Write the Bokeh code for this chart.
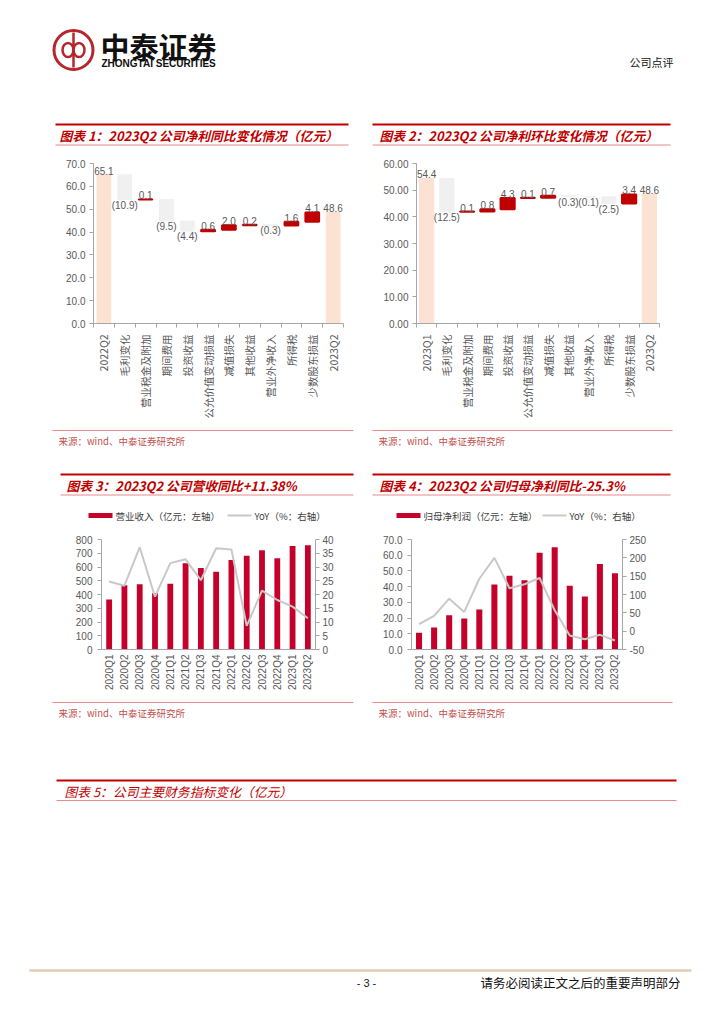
import math
from bokeh.plotting import figure
from bokeh.layouts import column, row
from bokeh.models import (Range1d, FactorRange, LinearAxis, FixedTicker,
                          CustomJSTickFormatter, NumeralTickFormatter)
from bokeh.core.properties import value
from bokeh.embed import file_html
from bokeh.resources import INLINE

# ---------------- data ----------------
wf1_title = "图表 1：2023Q2 公司净利同比变化情况（亿元）"
wf1_cats = ["2022Q2", "毛利变化", "营业税金及附加", "期间费用", "投资收益", "公允价值变动损益",
            "减值损失", "其他收益", "营业外净收入", "所得税", "少数股东损益", "2023Q2"]
wf1_vals = [65.1, -10.9, 0.1, -9.5, -4.4, 0.6, 2.0, 0.2, -0.3, 1.6, 4.1, 48.6]
wf1_ticks = [0, 10, 20, 30, 40, 50, 60, 70]

wf2_title = "图表 2：2023Q2 公司净利环比变化情况（亿元）"
wf2_cats = ["2023Q1", "毛利变化", "营业税金及附加", "期间费用", "投资收益", "公允价值变动损益",
            "减值损失", "其他收益", "营业外净收入", "所得税", "少数股东损益", "2023Q2"]
wf2_vals = [54.4, -12.5, 0.1, 0.8, 4.3, 0.1, 0.7, -0.3, -0.1, -2.5, 3.4, 48.6]
wf2_ticks = [0, 10, 20, 30, 40, 50, 60]

quarters = ["2020Q1", "2020Q2", "2020Q3", "2020Q4", "2021Q1", "2021Q2", "2021Q3", "2021Q4",
            "2022Q1", "2022Q2", "2022Q3", "2022Q4", "2023Q1", "2023Q2"]

rev_title = "图表 3：2023Q2 公司营收同比+11.38%"
revenue = [363, 468, 475, 410, 478, 627, 593, 565, 651, 682, 721, 663, 752, 759]
revenue_yoy = [24.7, 23.2, 37.2, 19.2, 31.4, 32.8, 25.2, 36.8, 36.4, 8.6, 21.4, 18.0, 15.6, 11.38]
rev_ticks = [0, 100, 200, 300, 400, 500, 600, 700, 800]
rev_yoy_ticks = [0, 5, 10, 15, 20, 25, 30, 35, 40]
rev_legend = ["营业收入（亿元：左轴）", "YoY（%：右轴）"]

np_title = "图表 4：2023Q2 公司归母净利同比-25.3%"
net_profit = [10.6, 14.0, 21.8, 19.7, 25.4, 41.4, 46.9, 44.0, 61.5, 65.1, 40.6, 33.8, 54.4, 48.6]
net_profit_yoy = [18.9, 41.5, 88.6, 52.4, 143, 200, 117, 128, 145, 57, -12, -22, -10, -25.3]
np_ticks = [0, 10, 20, 30, 40, 50, 60, 70]
np_yoy_ticks = [-50, 0, 50, 100, 150, 200, 250]
np_legend = ["归母净利润（亿元：左轴）", "YoY（%：右轴）"]

tab5_title = "图表 5：公司主要财务指标变化（亿元）"
source_text = "来源：wind、中泰证券研究所"
brand_cn = "中泰证券"
brand_en = "ZHONGTAI SECURITIES"
doc_type = "公司点评"
page_no = "- 3 -"
footer_note = "请务必阅读正文之后的重要声明部分"

# ---------------- styles ----------------
CJK = "Noto Sans CJK SC"
NUM = "Liberation Sans"
RED = "#C00000"
PINK = "#E98A8A"
SRC_C = "#C0504D"
AX = "#A6A6A6"
LBL = "#595959"
TOTAL = "#FBE2D2"
UP = "#C00000"
DOWN = "#F0F0F0"
BAR = "#C5002B"
YOY = "#C8C8C8"
LOGO = "#B5272D"
PAGE_W = 720


def deco_fig(h, y0, y1):
    p = figure(width=PAGE_W, height=h, x_range=Range1d(0, PAGE_W), y_range=Range1d(y1, y0),
               toolbar_location=None, output_backend="svg", min_border=0,
               x_axis_location=None, y_axis_location=None, outline_line_color=None)
    p.grid.visible = False
    return p


def hline(p, x0, x1, y, color, width):
    p.segment(x0=[x0], y0=[y], x1=[x1], y1=[y], line_color=color, line_width=width)


def txt(p, x, y, s, font, size, color, align="left", style="normal", baseline="middle"):
    p.text(x=[x], y=[y], text=[s], text_font=value(font), text_font_size=size,
           text_color=color, text_align=align, text_baseline=baseline, text_font_style=style)


def title_bar(p, x0, x1, ytop, ytext, ybot, tx, s, style="bold italic"):
    hline(p, x0, x1, ytop, RED, 2)
    txt(p, tx, ytext, s, CJK, "12.8px", RED, style=style)
    hline(p, x0, x1, ybot, PINK, 1)


def style_y(ax, ticks, fmt, standoff=4):
    ax.ticker = FixedTicker(ticks=ticks)
    ax.formatter = NumeralTickFormatter(format=fmt)
    ax.major_tick_out = 4
    ax.major_tick_in = 0
    ax.minor_tick_out = 0
    ax.minor_tick_in = 0
    ax.axis_line_color = AX
    ax.major_tick_line_color = AX
    ax.major_label_text_font = NUM
    ax.major_label_text_font_size = "10px"
    ax.major_label_text_color = LBL
    ax.major_label_standoff = standoff


def waterfall(cats, vals, ticks, fmt, w, h, bl, br, bt, bb, bar_w):
    n = len(cats)
    xs = [i + 0.5 for i in range(n)]          # category slots on a numeric axis
    bottoms, tops, colors, lws = [], [], [], []
    up_x, up_y, up_t, dn_x, dn_y, dn_t = [], [], [], [], [], []
    level = 0.0
    for i, (x, v) in enumerate(zip(xs, vals)):
        if i == 0 or i == n - 1:
            b, t, col, lw = 0.0, v, TOTAL, 1
            level = v
            up_x.append(x); up_y.append(t); up_t.append(f"{v:.1f}")
        else:
            b, t = sorted((level, level + v))
            level += v
            if v >= 0:
                col, lw = UP, 2
                up_x.append(x); up_y.append(t); up_t.append(f"{v:.1f}")
            else:
                col, lw = DOWN, 1
                dn_x.append(x); dn_y.append(b); dn_t.append(f"({-v:.1f})")
        bottoms.append(b); tops.append(t); colors.append(col); lws.append(lw)

    p = figure(width=w, height=h, x_range=Range1d(0, n), y_range=Range1d(ticks[0], ticks[-1]),
               toolbar_location=None, output_backend="svg",
               min_border_left=bl, min_border_right=br, min_border_top=bt, min_border_bottom=bb,
               outline_line_color=None)
    p.grid.visible = False
    p.vbar(x=xs, bottom=bottoms, top=tops, width=bar_w, fill_color=colors, line_color=colors, line_width=lws)
    p.text(x=up_x, y=up_y, text=up_t, text_align="center", text_baseline="bottom",
           text_font=value(NUM), text_font_size="10px", text_color=LBL)
    p.text(x=dn_x, y=dn_y, text=dn_t, text_align="center", text_baseline="top",
           text_font=value(NUM), text_font_size="10px", text_color=LBL)
    style_y(p.yaxis[0], ticks, fmt)

    xa = p.xaxis[0]
    xa.ticker = FixedTicker(ticks=xs, minor_ticks=list(range(n + 1)))
    xa.formatter = CustomJSTickFormatter(args=dict(labels=cats),
                                         code="return labels[Math.round(tick - 0.5)] || ''")
    xa.major_tick_out = 0
    xa.major_tick_in = 0
    xa.minor_tick_out = 4
    xa.minor_tick_in = 0
    xa.minor_tick_line_color = AX
    xa.axis_line_color = AX
    xa.major_label_orientation = math.pi / 2
    xa.major_label_standoff = 7
    xa.major_label_text_font = CJK
    xa.major_label_text_font_size = "10.5px"
    xa.major_label_text_color = LBL
    return p


def combo(cats, bars, yoy, lticks, lfmt, rticks, w, h, bl, br, bt, bb, bar_w):
    p = figure(width=w, height=h, x_range=FactorRange(*cats), y_range=Range1d(lticks[0], lticks[-1]),
               toolbar_location=None, output_backend="svg",
               min_border_left=bl, min_border_right=br, min_border_top=bt, min_border_bottom=bb,
               outline_line_color=None)
    p.grid.visible = False
    p.extra_y_ranges = {"yoy": Range1d(rticks[0], rticks[-1])}
    p.vbar(x=cats, top=bars, width=bar_w, fill_color=BAR, line_color=None)
    p.line(x=cats, y=yoy, y_range_name="yoy", line_color=YOY, line_width=2)
    style_y(p.yaxis[0], lticks, lfmt, standoff=5)
    ra = LinearAxis(y_range_name="yoy")
    style_y(ra, rticks, "0", standoff=3)
    p.add_layout(ra, "right")
    xa = p.xaxis[0]
    xa.major_label_orientation = math.pi / 2
    xa.major_tick_out = 0
    xa.major_tick_in = 0
    xa.axis_line_color = AX
    xa.major_label_standoff = 5
    xa.major_label_text_font = NUM
    xa.major_label_text_font_size = "10px"
    xa.major_label_text_color = LBL
    return p


def legend(p, x_rect, x_line, text_left, text_right, y):
    p.rect(x=[x_rect + 12], y=[y], width=24, height=5, fill_color=BAR, line_color=None)
    txt(p, x_rect + 27, y, text_left, CJK, "9.5px", "#404040")
    p.segment(x0=[x_line], y0=[y], x1=[x_line + 24], y1=[y], line_color=YOY, line_width=2)
    txt(p, x_line + 27, y, text_right, CJK, "9.5px", "#404040")


# ---------------- header band (y 0 -> 150) ----------------
head = deco_fig(150, 0, 150)
head.circle(x=[73], y=[49.5], radius=19.5, fill_color=None, line_color=LOGO, line_width=3)
head.ellipse(x=[67.5, 78.5], y=[49.5, 49.5], width=11, height=14, fill_color=None,
             line_color=LOGO, line_width=2.5)
head.segment(x0=[73], y0=[32], x1=[73], y1=[67], line_color=LOGO, line_width=2.5)
txt(head, 100, 45, brand_cn, CJK, "29px", "#111111", style="bold")
txt(head, 101, 63, brand_en, NUM, "10px", "#111111", style="bold")
txt(head, 673, 61.5, doc_type, CJK, "11px", "#111111", align="right")
title_bar(head, 55, 348, 124, 134.5, 144.5, 59, wf1_title)
title_bar(head, 372, 670, 124, 134.5, 144.5, 379, wf2_title)

# ---------------- waterfall row (y 150 -> 425) ----------------
p1 = waterfall(wf1_cats, wf1_vals, wf1_ticks, "0.0", 364, 275, 93, 21, 10, 102, 0.66)
p2 = waterfall(wf2_cats, wf2_vals, wf2_ticks, "0.00", 356, 275, 52, 61, 13, 102, 0.7)

# ---------------- middle band (y 425 -> 525) ----------------
mid = deco_fig(100, 425, 525)
hline(mid, 52, 353, 430, PINK, 1)
hline(mid, 372, 672, 430, PINK, 1)
txt(mid, 58, 440, source_text, CJK, "9.5px", SRC_C)
txt(mid, 378, 440, source_text, CJK, "9.5px", SRC_C)
title_bar(mid, 60, 353, 474, 485, 494.5, 66, rev_title)
title_bar(mid, 372, 670, 474, 485, 494.5, 379, np_title)
legend(mid, 88, 227, rev_legend[0], rev_legend[1], 515)
legend(mid, 396, 542, np_legend[0], np_legend[1], 515)

# ---------------- combo row (y 525 -> 697) ----------------
p3 = combo(quarters, revenue, revenue_yoy, rev_ticks, "0", rev_yoy_ticks, 364, 172, 101, 49, 13, 48, 0.38)
p4 = combo(quarters, net_profit, net_profit_yoy, np_ticks, "0.0", np_yoy_ticks, 356, 172, 47, 98, 14, 48, 0.4)

# ---------------- bottom band (y 697 -> 1020) ----------------
bot = deco_fig(323, 697, 1020)
hline(bot, 52, 353, 702, PINK, 1)
hline(bot, 372, 672, 702, PINK, 1)
txt(bot, 58, 712, source_text, CJK, "9.5px", SRC_C)
txt(bot, 378, 712, source_text, CJK, "9.5px", SRC_C)
title_bar(bot, 56, 676, 780, 790.5, 800, 64, tab5_title, style="italic")
hline(bot, 29, 691, 970, "#E6CBB3", 2.5)
txt(bot, 366, 982, page_no, NUM, "11px", "#222222", align="center")
txt(bot, 680, 982, footer_note, CJK, "12.5px", "#111111", align="right")

layout = column(head, row(p1, p2, spacing=0), mid, row(p3, p4, spacing=0), bot, spacing=0)

open("out.html", "w").write(file_html(layout, INLINE))
